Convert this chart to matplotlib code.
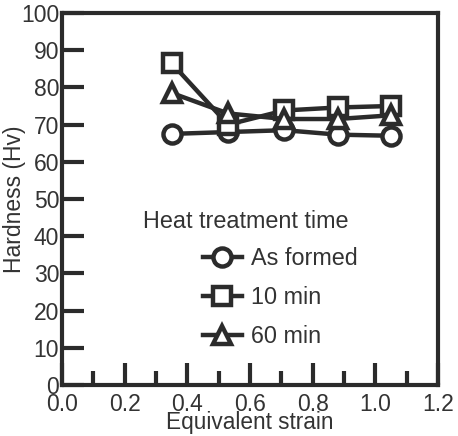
import matplotlib
matplotlib.use("Agg")
import matplotlib.pyplot as plt
from matplotlib.ticker import MultipleLocator

strain = [0.35, 0.53, 0.71, 0.88, 1.05]
as_formed = [67.5, 68.0, 68.5, 67.3, 67.0]
min10 = [86.5, 70.0, 73.8, 74.6, 75.0]
min60 = [78.5, 73.0, 71.5, 71.5, 72.5]
labels = ["As formed", "10 min", "60 min"]
legend_title = "Heat treatment time"

plt.rcParams['font.family'] = ['Liberation Sans', 'DejaVu Sans']
col = '#2b2b2b'
txt = '#333333'

fig = plt.figure(figsize=(4.58, 4.36), dpi=100)
ax = fig.add_axes([62/458, 1-385/436, (438-62)/458, (385-13)/436])

kw = dict(color=col, lw=3.2, markersize=13, markerfacecolor='white', markeredgewidth=3.2)
ax.plot(strain, as_formed, marker='o', label=labels[0], **kw)
ax.plot(strain, min10, marker='s', label=labels[1], **kw)
ax.plot(strain, min60, marker='^', label=labels[2], **kw)

ax.set_xlim(0, 1.2)
ax.set_ylim(0, 100)
ax.xaxis.set_minor_locator(MultipleLocator(0.1))
ax.yaxis.set_major_locator(MultipleLocator(10))
ax.set_xticks([0.0, 0.2, 0.4, 0.6, 0.8, 1.0, 1.2])
ax.set_xticklabels(["0.0", "0.2", "0.4", "0.6", "0.8", "1.0", "1.2"])
for s in ax.spines.values():
    s.set_linewidth(3.0)
    s.set_color(col)
ax.tick_params(axis='both', which='major', direction='in', length=16, width=3.0,
               color=col, labelsize=16.5, labelcolor=txt, pad=2)
ax.tick_params(axis='x', which='major', pad=6)
ax.tick_params(axis='x', which='minor', direction='in', length=10, width=3.0, color=col)
ax.tick_params(axis='y', which='minor', left=False)

ax.set_xlabel("Equivalent strain", fontsize=16.3, color=txt, va='bottom')
ax.xaxis.set_label_coords(0.5, (385-434)/372)
ax.set_ylabel("Hardness (Hv)", fontsize=16.5, color=txt)
ax.yaxis.set_label_coords((26-62)/376, 0.5)

ax.text((143-62)/376, (385-221)/372, legend_title, transform=ax.transAxes,
        fontsize=16.8, color=txt, ha='left', va='center')
leg = ax.legend(loc='upper left', bbox_to_anchor=((203-62)/376, (385-247)/372),
                frameon=False, fontsize=16.8, handlelength=1.65, handletextpad=0.4,
                labelspacing=0.68, borderpad=0, borderaxespad=0)
for t in leg.get_texts():
    t.set_color(txt)

fig.savefig("out.png", dpi=100)
